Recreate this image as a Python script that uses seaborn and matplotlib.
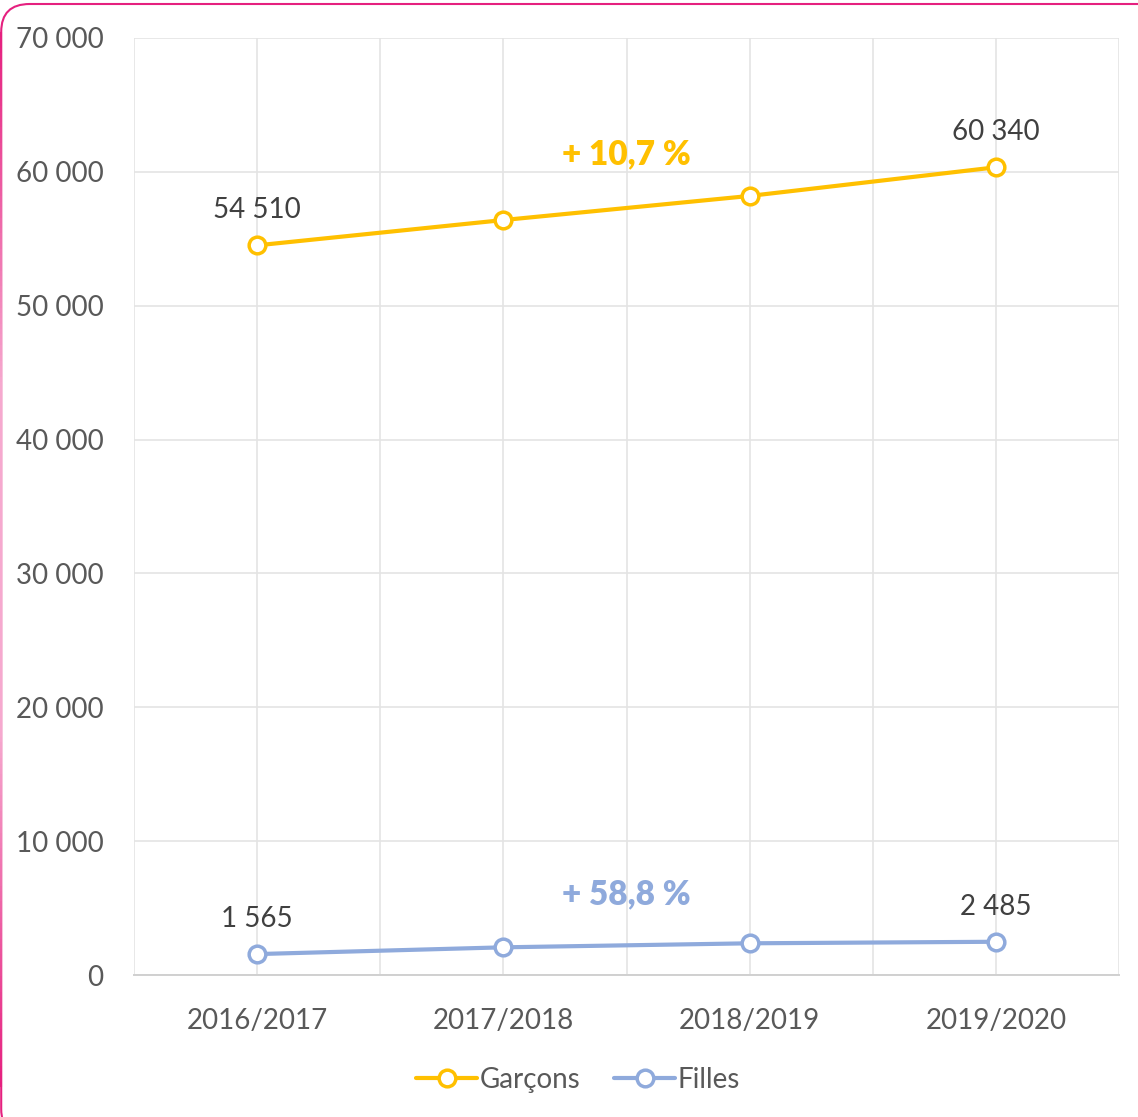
import numpy as np
import pandas as pd
import matplotlib.pyplot as plt
import seaborn as sns
from matplotlib.patches import FancyBboxPatch
from matplotlib.lines import Line2D
from matplotlib.collections import LineCollection
from matplotlib.colors import LinearSegmentedColormap
from matplotlib.ticker import FuncFormatter

# --- data ---
years = ["2016/2017", "2017/2018", "2018/2019", "2019/2020"]
garcons = [54510, 56400, 58200, 60340]
filles = [1565, 2070, 2370, 2485]
series_names = ["Garçons", "Filles"]
growth_labels = ["+ 10,7 %", "+ 58,8 %"]
growth_y = [61300, 6000]

GOLD = "#FFC000"
BLUE = "#8FAADC"
PINK = "#E5207F"


def fr(v):
    return f"{int(v):,}".replace(",", " ")


df = pd.concat([
    pd.DataFrame({"annee": years, "effectif": garcons, "serie": series_names[0]}),
    pd.DataFrame({"annee": years, "effectif": filles, "serie": series_names[1]}),
])

sns.set_style("white")
plt.rcParams["font.family"] = ["Lato", "DejaVu Sans"]

fig = plt.figure(figsize=(11.38, 11.17), dpi=100)
ax = fig.add_axes([0.1178, 0.1271, 0.8655, 0.8389])

# --- rounded pink frame around the whole figure ---
frame = FancyBboxPatch((1.2 / 1138, -20 / 1117), 1.03, (1117 - 4 + 20) / 1117,
                       boxstyle="round,pad=0,rounding_size=0.025",
                       transform=fig.transFigure, fill=False,
                       edgecolor=PINK, linewidth=1.5, zorder=0)
fig.patches.append(frame)
# left edge fades to a lighter pink in the middle (drawn over the frame)
ys = np.linspace(30 / 1117, 1085 / 1117, 200)
pts = np.column_stack([np.full_like(ys, 1.2 / 1138), ys])
segs = np.stack([pts[:-1], pts[1:]], axis=1)
fade = LinearSegmentedColormap.from_list("fade", [PINK, "#F6A9CF", "#F6A9CF", PINK])
lc = LineCollection(segs, cmap=fade, linewidth=1.5, transform=fig.transFigure)
lc.set_array(np.linspace(0, 1, len(segs)))
fig.add_artist(lc)

palette = {series_names[0]: GOLD, series_names[1]: BLUE}
sns.lineplot(data=df, x="annee", y="effectif", hue="serie", palette=palette,
             sort=False, linewidth=3, marker="o", markersize=12,
             markerfacecolor="white", markeredgewidth=2.5, ax=ax, legend=False,
             zorder=3)
for line, name in zip(ax.lines, series_names):
    line.set_markeredgecolor(palette[name])

ax.set_xlim(-0.5, 3.5)
ax.set_ylim(0, 70000)
ax.set_yticks(range(0, 70001, 10000))
ax.yaxis.set_major_formatter(FuncFormatter(lambda v, p: fr(v)))
ax.set_xticks(range(len(years)))
ax.set_xticks([i + 0.5 for i in range(-1, len(years))], minor=True)
ax.grid(True, which="both", axis="x", color="#E4E4E4", linewidth=1.2)
ax.grid(True, which="major", axis="y", color="#E4E4E4", linewidth=1.2)
ax.set_axisbelow(True)
for s in ["top", "right", "left"]:
    ax.spines[s].set_visible(False)
ax.spines["bottom"].set_color("#D0D0D0")
ax.spines["bottom"].set_linewidth(1.4)
ax.tick_params(axis="both", which="both", length=0, labelsize=20,
               labelcolor="#595959")
ax.tick_params(axis="x", pad=24)
ax.tick_params(axis="y", pad=22)
ax.set_xlabel("")
ax.set_ylabel("")

# data labels on first and last points
for vals in (garcons, filles):
    for i in (0, len(years) - 1):
        ax.annotate(fr(vals[i]), (i, vals[i]), xytext=(0, 16),
                    textcoords="offset points", ha="center", va="bottom",
                    fontsize=20, color="#404040")

# growth annotations
for lab, yv, col in zip(growth_labels, growth_y, (GOLD, BLUE)):
    ax.text(1.5, yv, lab, ha="center", va="center", fontsize=24,
            fontweight="heavy", color=col)

handles = [Line2D([0], [0], color=palette[n], linewidth=3, marker="o",
                  markersize=12, markerfacecolor="white",
                  markeredgecolor=palette[n], markeredgewidth=2.5)
           for n in series_names]
fig.legend(handles, series_names, loc="center", bbox_to_anchor=(0.508, 0.033),
           ncol=2, frameon=False, fontsize=20, handlelength=2.2,
           handletextpad=0.1, columnspacing=1.2, labelcolor="#595959")

fig.savefig("out.png", dpi=100)
